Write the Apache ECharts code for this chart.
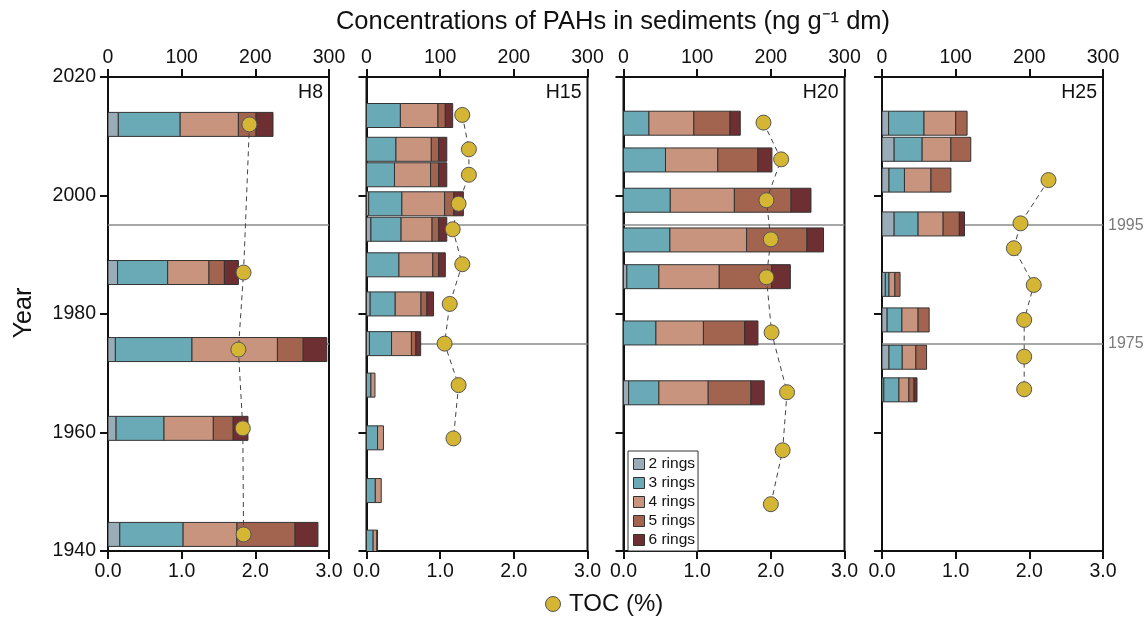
<!DOCTYPE html>
<html>
<head>
<meta charset="utf-8">
<script src="https://cdn.jsdelivr.net/npm/echarts@6/dist/echarts.min.js"></script>
<style>
  html, body { margin: 0; padding: 0; background: #fff; }
  #chart { width: 1148px; height: 617px; }
</style>
</head>
<body>
<div id="chart"></div>
<script>
// ---- PAH ring classes ----
const RING_NAMES = ['2 rings', '3 rings', '4 rings', '5 rings', '6 rings'];
const RING_COLORS = ['#9aacb7', '#6aaab6', '#c9947e', '#a2644f', '#6d2f31'];
const SITE_NAMES = ['H8', 'H15', 'H20', 'H25'];
const REF_YEARS = [1995, 1975];

// ---- H8 ----
const h8Years = [2012, 1987, 1974, 1960.7, 1942.8];
const h8R2 = [14, 13, 10, 11, 16];
const h8R3 = [84, 68, 104, 65, 86];
const h8R4 = [79, 56, 116, 67, 73];
const h8R5 = [24, 21, 35, 27, 79];
const h8R6 = [23, 19, 32, 20, 31];
const h8TocYears = [2012, 1987, 1974, 1960.7, 1942.8];
const h8Toc = [1.92, 1.84, 1.77, 1.83, 1.84];

// ---- H15 ----
const h15Years = [2013.5, 2007.8, 2003.5, 1998.6, 1994.3, 1988.3, 1981.7, 1975, 1968, 1959.1, 1950.2, 1941.5];
const h15R2 = [0, 0, 0, 3, 6, 0, 5, 4, 0, 0, 0, 0];
const h15R3 = [46, 40, 38, 45, 41, 44, 34, 30, 6, 15, 12, 9];
const h15R4 = [51, 48, 49, 58, 42, 46, 35, 27, 5.5, 8, 8, 5];
const h15R5 = [10, 10, 11, 12.5, 9, 8, 8, 6, 0, 0, 0, 1];
const h15R6 = [10, 11, 11, 13, 11, 9, 9, 6.5, 0, 0, 0, 0];
const h15TocYears = [2013.6, 2007.8, 2003.5, 1998.6, 1994.3, 1988.4, 1981.7, 1975, 1968, 1959];
const h15Toc = [1.30, 1.39, 1.39, 1.25, 1.17, 1.30, 1.13, 1.06, 1.25, 1.18];

// ---- H20 ----
const h20Years = [2012.2, 2006, 1999.2, 1992.5, 1986.3, 1976.8, 1966.7];
const h20R2 = [0, 0, 0, 0, 4.5, 0, 7];
const h20R3 = [34.5, 57, 63.5, 63, 43.5, 44, 41];
const h20R4 = [61, 71, 87, 104, 82, 64.5, 67];
const h20R5 = [49, 54.5, 77, 82, 71, 56, 58];
const h20R6 = [14, 19, 27, 22.5, 25.5, 18, 18];
const h20TocYears = [2012.3, 2006.1, 1999.2, 1992.6, 1986.2, 1976.9, 1966.8, 1957, 1947.9];
const h20Toc = [1.90, 2.14, 1.94, 2.00, 1.94, 2.01, 2.22, 2.16, 2.00];

// ---- H25 ----
const h25Years = [2012.2, 2007.8, 2002.6, 1995.2, 1985, 1979, 1972.7, 1967.2];
const h25R2 = [9, 16.5, 9.5, 16.5, 4.5, 7, 9.5, 2.5];
const h25R3 = [48, 38, 21, 32.5, 5, 20, 18, 20.5];
const h25R4 = [43, 39, 36, 34, 8, 22, 18.5, 13.5];
const h25R5 = [15.5, 27, 27, 22, 7, 15, 14.5, 7];
const h25R6 = [0, 0, 0, 7, 0, 0, 0, 4];
const h25TocYears = [2002.6, 1995.3, 1991.1, 1984.9, 1979, 1972.8, 1967.3];
const h25Toc = [2.26, 1.88, 1.79, 2.06, 1.93, 1.93, 1.93];

// ---- tick labels ----
const YEAR_TICKS = { min: 1940, max: 2020, interval: 20 };
const PAH_TICKS = { min: 0, max: 300, interval: 100 };
const TOC_TICKS = { min: 0, max: 3, interval: 1 };

const panels = [
  { years: h8Years, rings: [h8R2, h8R3, h8R4, h8R5, h8R6], tocYears: h8TocYears, toc: h8Toc },
  { years: h15Years, rings: [h15R2, h15R3, h15R4, h15R5, h15R6], tocYears: h15TocYears, toc: h15Toc },
  { years: h20Years, rings: [h20R2, h20R3, h20R4, h20R5, h20R6], tocYears: h20TocYears, toc: h20Toc },
  { years: h25Years, rings: [h25R2, h25R3, h25R4, h25R5, h25R6], tocYears: h25TocYears, toc: h25Toc }
];

// ---- layout / style ----
const FONT = "'Liberation Sans', Arial, sans-serif";
const GRID_LEFTS = [108, 366.5, 623.5, 882];
const GRID_TOP = 77, GRID_W = 221, GRID_H = 474;
const BAR_SPAN_YEARS = 4.05;
const TOC_COLOR = '#d5b534';
const AXIS_COLOR = '#111';

const grids = [], xAxes = [], yAxes = [], series = [], graphics = [];

function renderRingBar(params, api) {
  const x0 = api.value(0), x1 = api.value(1), yr = api.value(2);
  if (!(x1 > x0)) return null;
  const a = api.coord([x0, yr]);
  const b = api.coord([x1, yr]);
  const h = Math.abs(api.size([0, BAR_SPAN_YEARS])[1]);
  return {
    type: 'rect',
    shape: { x: a[0], y: a[1] - h / 2, width: b[0] - a[0], height: h },
    style: { fill: api.visual('color'), stroke: '#333', lineWidth: 1 }
  };
}

const axisCommon = {
  axisLine: { show: true, lineStyle: { color: AXIS_COLOR, width: 2 } },
  axisTick: { show: true, inside: false, length: 8, lineStyle: { color: AXIS_COLOR, width: 2 } },
  splitLine: { show: false },
  axisLabel: { color: '#111', fontSize: 19.5, fontFamily: FONT, showMinLabel: true, showMaxLabel: true }
};

panels.forEach((p, i) => {
  grids.push({
    left: GRID_LEFTS[i], top: GRID_TOP, width: GRID_W, height: GRID_H,
    show: true, borderColor: AXIS_COLOR, borderWidth: 2, backgroundColor: 'transparent'
  });
  // concentration axis (top)
  xAxes.push(Object.assign({}, axisCommon, {
    type: 'value', gridIndex: i, position: 'top',
    min: PAH_TICKS.min, max: PAH_TICKS.max, interval: PAH_TICKS.interval,
    axisLabel: Object.assign({}, axisCommon.axisLabel, { margin: 9, formatter: v => String(v) })
  }));
  // TOC axis (bottom)
  xAxes.push(Object.assign({}, axisCommon, {
    type: 'value', gridIndex: i, position: 'bottom',
    min: TOC_TICKS.min, max: TOC_TICKS.max, interval: TOC_TICKS.interval,
    axisLabel: Object.assign({}, axisCommon.axisLabel, { margin: 11, formatter: v => v.toFixed(1) })
  }));
  yAxes.push(Object.assign({}, axisCommon, {
    type: 'value', gridIndex: i, position: 'left',
    min: YEAR_TICKS.min, max: YEAR_TICKS.max, interval: YEAR_TICKS.interval,
    axisLabel: Object.assign({}, axisCommon.axisLabel, { show: i === 0, margin: 12, formatter: v => String(v) })
  }));

  // stacked ring-class bars
  const starts = p.years.map(() => 0);
  p.rings.forEach((vals, r) => {
    const data = p.years.map((yr, k) => {
      const s = starts[k];
      starts[k] += vals[k];
      return [s, s + vals[k], yr];
    });
    series.push({
      type: 'custom',
      name: RING_NAMES[r],
      xAxisIndex: 2 * i,
      yAxisIndex: i,
      clip: true,
      z: 2,
      itemStyle: { color: RING_COLORS[r], borderColor: '#333', borderWidth: 1 },
      encode: { x: [0, 1], y: 2 },
      renderItem: renderRingBar,
      data: data
    });
  });

  // TOC profile + reference years
  const isLast = i === panels.length - 1;
  series.push({
    type: 'line',
    name: 'TOC',
    xAxisIndex: 2 * i + 1,
    yAxisIndex: i,
    z: 4,
    symbol: 'circle',
    symbolSize: 15,
    lineStyle: { color: '#444', width: 1, type: [5, 4] },
    itemStyle: { color: TOC_COLOR, borderColor: '#555', borderWidth: 1 },
    emphasis: { disabled: true },
    data: p.tocYears.map((yr, k) => [p.toc[k], yr]),
    markLine: {
      silent: true,
      z: 1,
      symbol: 'none',
      lineStyle: { color: '#8a8a8a', width: 1.5, type: 'solid' },
      label: {
        show: isLast, position: 'end', distance: 5,
        color: '#7a7a7a', fontSize: 16, fontFamily: FONT,
        formatter: prm => String(prm.value)
      },
      data: REF_YEARS.map(y => ({ yAxis: y }))
    }
  });

  graphics.push({
    type: 'text',
    x: GRID_LEFTS[i] + GRID_W - 6, y: 93,
    style: { text: SITE_NAMES[i], fontSize: 19.5, fontFamily: FONT, fill: '#111', align: 'right', verticalAlign: 'middle' }
  });
});

graphics.push(
  {
    type: 'text', x: 613, y: 22,
    style: { text: 'Concentrations of PAHs in sediments (ng g\u207B\u00B9 dm)', fontSize: 25.5, fontFamily: FONT, fill: '#111', align: 'center', verticalAlign: 'middle' }
  },
  {
    type: 'text', x: 24, y: 313, rotation: Math.PI / 2,
    style: { text: 'Year', fontSize: 25, fontFamily: FONT, fill: '#111', align: 'center', verticalAlign: 'middle' }
  },
  {
    type: 'circle', shape: { cx: 553, cy: 604, r: 7.5 },
    style: { fill: TOC_COLOR, stroke: '#555', lineWidth: 1 }
  },
  {
    type: 'text', x: 569, y: 604,
    style: { text: 'TOC (%)', fontSize: 24, fontFamily: FONT, fill: '#111', align: 'left', verticalAlign: 'middle' }
  }
);

const chart = echarts.init(document.getElementById('chart'), null, { renderer: 'canvas' });
chart.setOption({
  animation: false,
  backgroundColor: '#fff',
  grid: grids,
  xAxis: xAxes,
  yAxis: yAxes,
  legend: {
    data: RING_NAMES,
    orient: 'vertical',
    left: 628, top: 451,
    padding: [5, 3, 3, 5],
    itemGap: 3,
    itemWidth: 11, itemHeight: 11,
    icon: 'rect',
    itemStyle: { borderColor: '#333', borderWidth: 1 },
    backgroundColor: '#fff',
    borderColor: '#333', borderWidth: 1,
    selectedMode: false,
    textStyle: { fontSize: 15.5, fontFamily: FONT, color: '#111', lineHeight: 14, padding: [0, 0, 0, -1] }
  },
  graphic: graphics,
  series: series
});
</script>
</body>
</html>
